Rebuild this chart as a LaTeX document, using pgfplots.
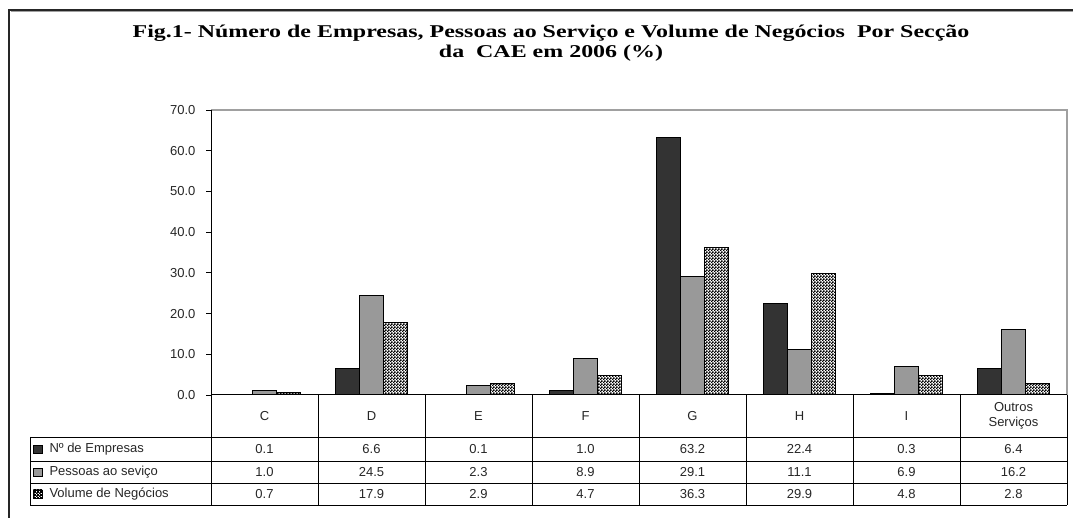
\documentclass[border=0pt]{standalone}
\usepackage{fontspec}
\setmainfont{Liberation Sans}
\newfontfamily\titlefont{Liberation Serif}
\usepackage{pgfplots}
\pgfplotsset{compat=1.18}
\usetikzlibrary{patterns}
\definecolor{darkbar}{HTML}{333333}
\definecolor{graybar}{HTML}{999999}
\definecolor{framegray}{HTML}{A0A0A0}
\pgfdeclarepatternformonly{xlcheck}{\pgfqpoint{0pt}{0pt}}{\pgfqpoint{3pt}{3pt}}{\pgfqpoint{3pt}{3pt}}{%
 \pgfpathrectangle{\pgfqpoint{0pt}{0pt}}{\pgfqpoint{1.9pt}{1.9pt}}%
 \pgfpathrectangle{\pgfqpoint{1.5pt}{1.5pt}}{\pgfqpoint{1.9pt}{1.9pt}}%
 \pgfusepath{fill}}
\newcommand{\tabfont}{\fontsize{13}{15}\selectfont}
\begin{document}
\begin{tikzpicture}
\useasboundingbox (0pt,0pt) rectangle (1073pt,518pt);
% outer frame
\draw[black!85, line width=2.5pt] (9pt,-20pt) -- (9pt,508pt) -- (1100pt,508pt);
\draw[framegray, line width=1pt] (10.5pt,506.3pt) -- (1100pt,506.3pt);
% title
\node[align=center, font=\titlefont\bfseries\fontsize{18}{20}\selectfont] at (551pt,475pt)
 {\scalebox{1.33}[1]{Fig.1- Número de Empresas, Pessoas ao Serviço e Volume de Negócios\ \ Por Secção}\\\scalebox{1.33}[1]{da\ \ CAE em 2006 (\%)}};
\begin{axis}[
  at={(211pt,123pt)}, anchor=south west,
  scale only axis, width=856pt, height=285pt,
  xmin=-0.5, xmax=7.5, ymin=0, ymax=70,
  ytick={0,10,...,70}, xtick=\empty, ytick pos=left,
  tick align=outside, major tick length=5pt,
  tick style={black, line width=0.8pt},
  axis line style={draw=none},
  yticklabel style={font=\tabfont, text=black!85, xshift=-7pt},
  ybar=0pt, bar width=0.222, clip=false,
  every axis plot/.append style={draw=black, line width=1pt},
  /pgf/number format/fixed,
  /pgf/number format/fixed zerofill,
  /pgf/number format/precision=1,
  /pgf/number format/assume math mode=true,
]
\addplot[fill=darkbar] coordinates {(0,0.1) (1,6.6) (2,0.1) (3,1.0) (4,63.2) (5,22.4) (6,0.3) (7,6.4)};
\addplot[fill=graybar] coordinates {(0,1.0) (1,24.5) (2,2.3) (3,8.9) (4,29.1) (5,11.1) (6,6.9) (7,16.2)};
\addplot[preaction={fill=white}, pattern=xlcheck, pattern color=black] coordinates {(0,0.7) (1,17.9) (2,2.9) (3,4.7) (4,36.3) (5,29.9) (6,4.8) (7,2.8)};
\draw[framegray, line width=1.2pt] (rel axis cs:0,1) -- (rel axis cs:1,1) -- (rel axis cs:1,0);
\draw[black, line width=1pt] (rel axis cs:0,1) -- (rel axis cs:0,0) -- (rel axis cs:1,0);
\end{axis}
% data table
\foreach \x in {211,318,425,532,639,746,853,960,1067}
  \draw[black, line width=0.9pt] (\x pt,123pt) -- (\x pt,13pt);
\foreach \y in {81,57,35,13}
  \draw[black, line width=0.9pt] (30pt,\y pt) -- (1067pt,\y pt);
\draw[black, line width=0.9pt] (30pt,81pt) -- (30pt,13pt);
% categories
\foreach \c [count=\i from 0] in {C,D,E,F,G,H,I}
  \node[font=\tabfont, text=black!85] at (264.5pt+107pt*\i,102pt) {\c};
\node[font=\tabfont, text=black!85, align=center] at (1013.5pt,102pt) {Outros\\Serviços};
% values
\foreach \v [count=\i from 0] in {0.1,6.6,0.1,1.0,63.2,22.4,0.3,6.4}
  \node[font=\tabfont, text=black!85] at (264.5pt+107pt*\i,69pt) {\v};
\foreach \v [count=\i from 0] in {1.0,24.5,2.3,8.9,29.1,11.1,6.9,16.2}
  \node[font=\tabfont, text=black!85] at (264.5pt+107pt*\i,46pt) {\v};
\foreach \v [count=\i from 0] in {0.7,17.9,2.9,4.7,36.3,29.9,4.8,2.8}
  \node[font=\tabfont, text=black!85] at (264.5pt+107pt*\i,24pt) {\v};
% legend keys
\filldraw[fill=darkbar, draw=black, line width=0.8pt] (33pt,65pt) rectangle (42pt,73pt);
\filldraw[fill=graybar, draw=black, line width=0.8pt] (33pt,42pt) rectangle (42pt,50pt);
\draw[preaction={fill=white}, pattern=xlcheck, pattern color=black, draw=black, line width=0.8pt] (33pt,20pt) rectangle (42pt,28pt);
\node[font=\tabfont, text=black!85, anchor=west] at (46pt,69pt) {Nº de Empresas};
\node[font=\tabfont, text=black!85, anchor=west] at (46pt,46pt) {Pessoas ao seviço};
\node[font=\tabfont, text=black!85, anchor=west] at (46pt,24pt) {Volume de Negócios};
\end{tikzpicture}
\end{document}
